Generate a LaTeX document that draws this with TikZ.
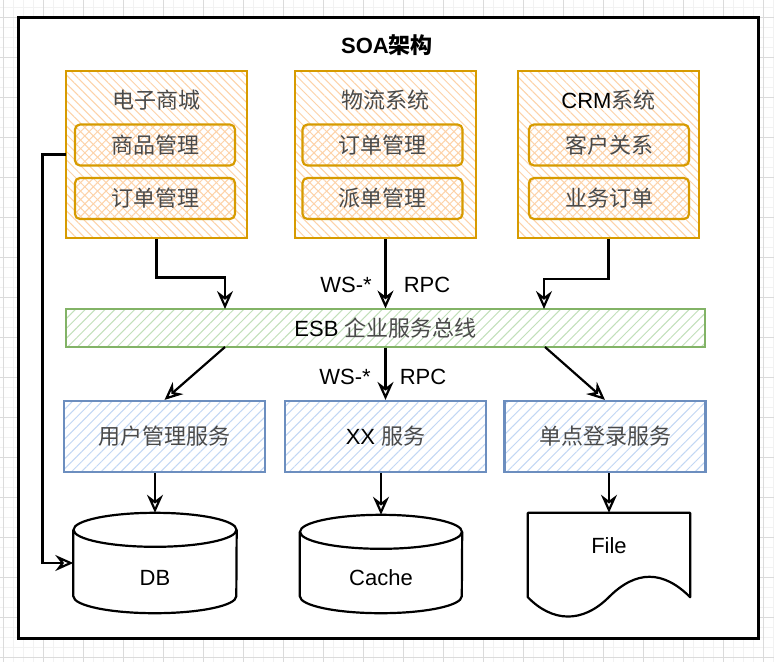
\documentclass[tikz,border=0pt]{standalone}
\usepackage{fontspec}
\setmainfont{Liberation Sans}
\newfontfamily\cjk{Noto Sans CJK SC}
\usepackage{tikz}
\usetikzlibrary{arrows.meta, patterns.meta, positioning}
\usepackage{xcolor}
\definecolor{orangeline}{HTML}{D79B00}
\definecolor{orangefill}{HTML}{FDD2A8}
\definecolor{greenline}{HTML}{82B366}
\definecolor{greenfill}{HTML}{C2E0BA}
\definecolor{blueline}{HTML}{6C8EBF}
\definecolor{bluefill}{HTML}{C2D7F4}
\definecolor{cjkgray}{HTML}{4A4A4A}
\newcommand{\zh}[1]{{\cjk\color{cjkgray}#1}}

\tikzset{
  txt/.style={font=\fontsize{22}{26}\selectfont, inner sep=0pt},
  system/.style={draw=orangeline, line width=2.2pt, minimum width=181pt, minimum height=167pt,
    pattern={Lines[angle=-45, distance=6pt, line width=1pt]}, pattern color=orangefill},
  module/.style={draw=orangeline, line width=2.2pt, rounded corners=5pt, minimum width=160pt, minimum height=41pt,
    pattern={Lines[angle=45, distance=6pt, line width=1pt]}, pattern color=orangefill, txt},
  bus/.style={draw=greenline, line width=2.2pt, minimum width=639pt, minimum height=38pt,
    pattern={Lines[angle=45, distance=7pt, line width=1pt]}, pattern color=greenfill, txt},
  service/.style={draw=blueline, line width=2.2pt, minimum width=201pt, minimum height=71pt,
    pattern={Lines[angle=45, distance=7pt, line width=1pt]}, pattern color=bluefill, txt},
  store/.style={minimum width=163pt, minimum height=100pt, inner sep=0pt},
  outline/.style={line width=2.2pt, fill=white},
  flow/.style={-{Stealth[open, length=18pt, width=16pt, inset=6pt]}, line width=2.2pt},
  gridminor/.style={gray!10, line width=0.6pt},
  gridmajor/.style={gray!28, line width=0.6pt}
}

\begin{document}
\begin{tikzpicture}[x=1pt, y=-1pt]
  \useasboundingbox (0,0) rectangle (774,662);

  % background grid
  \foreach \g in {3,13,...,773} \draw[gridminor] (\g,0) -- (\g,662);
  \foreach \g in {7,17,...,657} \draw[gridminor] (0,\g) -- (774,\g);
  \foreach \g in {3,43,...,763} \draw[gridmajor] (\g,0) -- (\g,662);
  \foreach \g in {17,57,...,657} \draw[gridmajor] (0,\g) -- (774,\g);

  % frame
  \draw[line width=3pt, fill=white] (18,17) rectangle (758,638);
  \node[txt, font=\fontsize{22}{26}\selectfont\bfseries] (title) at (387,45) {SOA{\cjk 架构}};

  % systems
  \node[system] (mall) at (156.5,154.5) {};
  \node[system] (logi) at (385.5,154.5) {};
  \node[system] (crm) at (608.5,154.5) {};
  \node[txt] (mallT) at (156.5,100) {\zh{电子商城}};
  \node[txt] (logiT) at (385.5,100) {\zh{物流系统}};
  \node[txt] (crmT) at (608.5,100) {CRM\zh{系统}};

  \node[module] (goods) at (155,145) {\zh{商品管理}};
  \node[module] (order) at (155,198.5) {\zh{订单管理}};
  \node[module] (lorder) at (382.5,145) {\zh{订单管理}};
  \node[module] (dispatch) at (382.5,198.5) {\zh{派单管理}};
  \node[module] (client) at (609,145) {\zh{客户关系}};
  \node[module] (biz) at (609,198.5) {\zh{业务订单}};

  % bus
  \node[bus] (esb) at (385.5,328) {ESB \zh{企业服务总线}};
  \coordinate (esbL) at (225,309);
  \coordinate (esbR) at (544,309);
  \coordinate (esbL2) at (225,347);
  \coordinate (esbR2) at (545,347);

  % services
  \node[service] (user) at (164.5,436.5) {\zh{用户管理服务}};
  \node[service] (xx) at (385.5,436.5) {XX \zh{服务}};
  \node[service] (sso) at (605,436.5) {\zh{单点登录服务}};

  % storage
  \node[store] (db) at (155,563) {};
  \node[store, minimum width=162pt, minimum height=98pt] (cache) at (381,564) {};
  \node[store, minimum width=162pt, minimum height=84pt] (file) at (609,555) {};

  \draw[outline] ([yshift=-17pt]db.north west) -- ([yshift=17pt]db.south west)
    arc[start angle=180, end angle=360, x radius=81.5pt, y radius=17pt] -- ([yshift=-17pt]db.north east);
  \draw[outline] ([yshift=-17pt]db.north) ellipse [x radius=81.5pt, y radius=17pt];
  \draw[outline] ([yshift=-17pt]cache.north west) -- ([yshift=17pt]cache.south west)
    arc[start angle=180, end angle=360, x radius=81pt, y radius=17pt] -- ([yshift=-17pt]cache.north east);
  \draw[outline] ([yshift=-17pt]cache.north) ellipse [x radius=81pt, y radius=17pt];
  \draw[outline, line join=round] (file.north west) -- (file.north east) -- (file.south east)
    .. controls (663,570) and (636,570) .. (609,597)
    .. controls (582,624) and (552,622) .. (file.south west) -- cycle;

  \node[txt] (dbL) at ([yshift=-15pt]db.center) {DB};
  \node[txt] (cacheL) at ([yshift=-14pt]cache.center) {Cache};
  \node[txt] (fileL) at ([yshift=9pt]file.center) {File};

  % connectors
  \draw[flow] (mall.south) -- ++(0,39) -| (esbL);
  \draw[flow] (logi.south) -- (esb.north);
  \draw[flow] (crm.south) -- ++(0,40) -| (esbR);
  \node[txt] (ws1) at (346,285) {WS-*};
  \node[txt] (rpc1) at (427,285) {RPC};

  \draw[flow] (esbL2) -- (user.north);
  \draw[flow] (esb.south) -- (xx.north);
  \draw[flow] (esbR2) -- (sso.north);
  \node[txt] (ws2) at (345,377) {WS-*};
  \node[txt] (rpc2) at (423,377) {RPC};

  \draw[flow] (user.south -| db.north) -- (db.north);
  \draw[flow] (xx.south -| cache.north) -- (cache.north);
  \draw[flow] (sso.south -| file.north) -- (file.north);
  \draw[flow] (mall.west) -- ++(-23,0) |- (db.west);
\end{tikzpicture}
\end{document}
